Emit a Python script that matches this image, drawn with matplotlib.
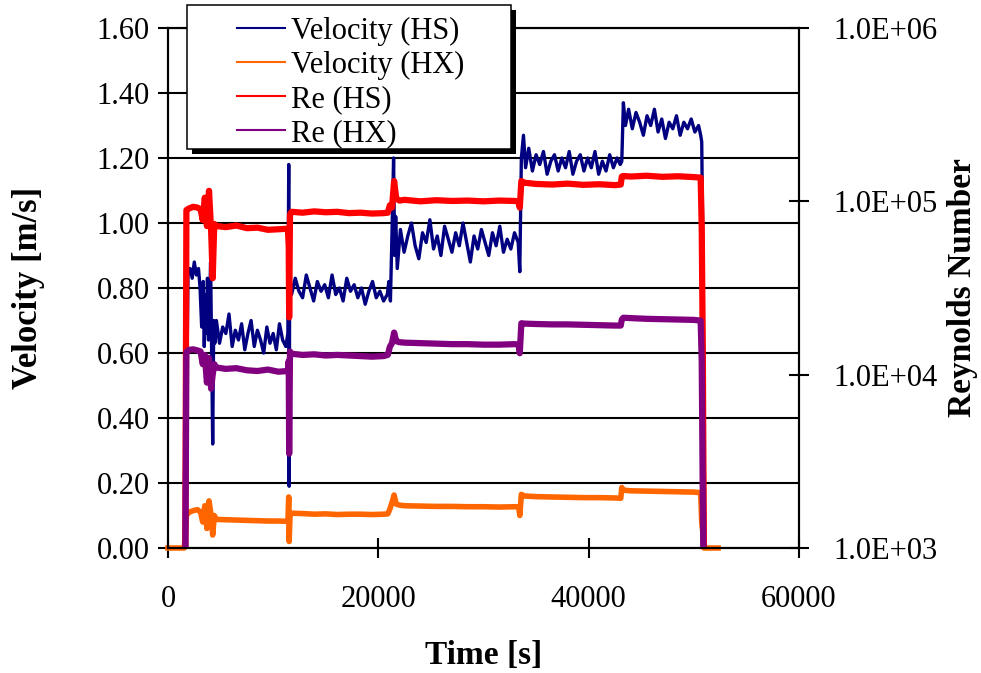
import numpy as np
import matplotlib
matplotlib.use("Agg")
import matplotlib.pyplot as plt
from matplotlib.lines import Line2D
from matplotlib.patches import Rectangle
from matplotlib.ticker import FixedLocator, FuncFormatter, NullLocator

plt.rcParams['font.family'] = ['Liberation Serif', 'DejaVu Serif']

nan = np.nan

time_hs = [
    0, 1550,
    1650, 1750, 1900, 2100, 2300, 2500, 2700, 2900, 3050, 3200, 3350,
    3450, 3550, 3650, 3750, 3850, 3950, 4050, 4150, 4250, 4350, 4450,
    4600, 4900, 5200, 5500, 5800, 6100, 6400, 6700, 7000, 7300, 7600, 7900,
    8200, 8500, 8800, 9100, 9400, 9700, 10000, 10300, 10600, 10900, 11200, 11400,
    11480, 11520, 11560, 11620,
    11750, 12100, 12450, 12800, 13150, 13500, 13850, 14200, 14550,
    14900, 15250, 15600, 15950, 16300, 16650, 17000, 17350, 17700,
    18050, 18400, 18750, 19100, 19450, 19800, 20150, 20500, 20850,
    21000, 21150, 21300, 21450, 21550, 21650, 21800,
    22100, 22450, 22800, 23150, 23500, 23850, 24200, 24550, 24900, 25250, 25600,
    25950, 26300, 26650, 27000, 27350, 27700, 28050, 28400, 28750, 29100, 29450,
    29800, 30150, 30500, 30850, 31200, 31550, 31900, 32250, 32600, 32950, 33300,
    33450, 33600, 33800, 34000,
    34300, 34650, 35000, 35350, 35700, 36050, 36400, 36750, 37100, 37450, 37800, 38150, 38500,
    38850, 39200, 39550, 39900, 40250, 40600, 40950, 41300, 41650, 42000, 42350, 42700, 43000,
    43150, 43300, 43500,
    43800, 44150, 44500, 44850, 45200, 45550, 45900, 46250, 46600, 46950, 47300,
    47650, 48000, 48350, 48700, 49050, 49400, 49750, 50100, 50450, 50650,
    50750, 50850, 50950, 51050,
    52300,
]
vel_hs = [
    0.0, 0.0,
    0.78, 0.38, 0.84, 0.86, 0.83, 0.88, 0.84, 0.86, 0.80, 0.68, 0.82,
    0.62, 0.78, 0.66, 0.83, 0.64, 0.74, 0.88, 0.60, 0.32, 0.70, 0.63,
    0.70, 0.63, 0.68, 0.66, 0.72, 0.62, 0.67, 0.64, 0.69, 0.61, 0.66, 0.70,
    0.62, 0.67, 0.64, 0.60, 0.68, 0.63, 0.66, 0.61, 0.69, 0.64, 0.62, 0.66,
    1.18, 0.19, 0.72, 0.82,
    0.78, 0.83, 0.79, 0.77, 0.84, 0.80, 0.76, 0.82, 0.79,
    0.81, 0.77, 0.84, 0.78, 0.80, 0.76, 0.83, 0.79, 0.81,
    0.77, 0.80, 0.75, 0.79, 0.82, 0.77, 0.79, 0.76, 0.78,
    0.82, 0.76, 0.97, 1.20, 0.90, 1.02, 0.86,
    0.98, 0.91, 0.96, 1.00, 0.93, 0.89, 0.97, 0.94, 1.01, 0.92, 0.96,
    0.90, 0.99, 0.95, 0.91, 0.97, 0.93, 1.00, 0.94, 0.88, 0.96, 0.92,
    0.98, 0.94, 0.90, 0.97, 0.93, 0.99, 0.91, 0.95, 0.92, 0.97, 0.94,
    0.85, 1.20, 1.27, 1.17,
    1.23, 1.16, 1.21, 1.18, 1.22, 1.15, 1.19, 1.21, 1.16, 1.20, 1.17, 1.22, 1.15,
    1.19, 1.21, 1.16, 1.20, 1.17, 1.22, 1.15, 1.19, 1.16, 1.21, 1.17, 1.20, 1.18,
    1.19, 1.37, 1.30,
    1.35, 1.29, 1.34, 1.31, 1.27, 1.33, 1.30, 1.35, 1.28, 1.32, 1.26,
    1.31, 1.29, 1.33, 1.27, 1.31, 1.29, 1.32, 1.28, 1.30, 1.27,
    1.25, 0.95, 0.45, 0.0,
    0.0,
]

# the other three channels
time_s = [
    0, 1550, 1650, 1750, 2000, 2400, 2800, 3100, 3300, 3500,
    3700, 3900, 4100, 4250, 4400, 4600, 5500, 6500, 7500, 8500,
    9500, 10500, 11400, 11480, 11520, 11600, 11750, 12800, 13900, 15000,
    16100, 17200, 18300, 19400, 20500, 20900, 21100, 21300, 21500, 21700,
    22000, 22500, 24000, 25500, 27000, 28500, 30000, 31500, 33000, 33350,
    33450, 33600, 33900, 35000, 36500, 38000, 39500, 41000, 42500, 43050,
    43150, 43300, 44000, 45500, 47000, 48500, 50000, 50650, 50750, 50850,
    50950, 51050, 52300,
]
vel_hx = [
    0.0, 0.0, 0.05, 0.10, 0.11, 0.115, 0.118, 0.11, 0.08, 0.13,
    0.06, 0.145, 0.10, 0.04, 0.10, 0.088, 0.087, 0.086, 0.085, 0.084,
    0.083, 0.083, 0.082, 0.157, 0.02, 0.10, 0.107, 0.106, 0.104, 0.105,
    0.103, 0.104, 0.104, 0.103, 0.104, 0.105, 0.12, 0.14, 0.163, 0.135,
    0.132, 0.130, 0.129, 0.128, 0.128, 0.127, 0.127, 0.126, 0.127, 0.126,
    0.10, 0.165, 0.160, 0.158, 0.157, 0.156, 0.155, 0.155, 0.154, 0.153,
    0.186, 0.178, 0.176, 0.175, 0.174, 0.173, 0.172, 0.170, 0.08, 0.05,
    0.0, 0.0, 0.0,
]
re_hs = [
    nan, nan, 1000, 89000, 91000, 93000, 92000, 90000, 78000, 105000,
    72000, 115000, 68000, 36000, 74000, 72000, 71000, 72500, 70000, 70500,
    68500, 69000, 69500, 55000, 21400, 84000, 87000, 86000, 87500, 86500,
    87000, 85500, 86000, 85000, 85500, 86000, 95000, 92000, 131000, 104000,
    101000, 102000, 100000, 101500, 100500, 101000, 100000, 101000, 100500, 99000,
    92000, 131000, 128000, 126000, 125000, 126500, 124500, 125500, 124000, 125000,
    139000, 140000, 139000, 140500, 138500, 139500, 138000, 137000, 70000, 14500,
    1000, nan, nan,
]
re_hx = [
    nan, nan, 800, 13500, 13900, 14000, 13800, 13600, 11500, 13000,
    9000, 12500, 8300, 10000, 11500, 11000, 10800, 10900, 10600, 10500,
    10700, 10400, 10500, 12000, 3500, 13600, 13200, 13000, 13100, 12900,
    13000, 12900, 12800, 12700, 12800, 13000, 14500, 15200, 17500, 15600,
    15400, 15300, 15200, 15100, 15000, 15000, 14900, 14900, 15000, 14900,
    13300, 19800, 19700, 19600, 19500, 19500, 19400, 19300, 19200, 19200,
    20800, 21300, 21200, 21000, 20900, 20800, 20700, 20500, 12000, 2000,
    500, nan, nan,
]

vel_ticks = [0.0, 0.2, 0.4, 0.6, 0.8, 1.0, 1.2, 1.4, 1.6]
re_ticks = [1e3, 1e4, 1e5, 1e6]
time_ticks = [0, 20000, 40000, 60000]

colors = {'Velocity (HS)': '#000080', 'Velocity (HX)': '#FF6600',
          'Re (HS)': '#FF0000', 'Re (HX)': '#800080'}

fig = plt.figure(figsize=(9.81, 6.73), dpi=100)
ax = fig.add_axes([168 / 981, 1 - 548 / 673, 631 / 981, 520 / 673])
ax2 = ax.twinx()

ax.plot(time_hs, vel_hs, color=colors['Velocity (HS)'], lw=2.4)
ax.plot(time_s, vel_hx, color=colors['Velocity (HX)'], lw=4, clip_on=False)
ax2.plot(time_s, re_hs, color=colors['Re (HS)'], lw=4.5)
ax2.plot(time_s, re_hx, color=colors['Re (HX)'], lw=4.5)

ax.set_xlim(0, 60000)
ax.set_ylim(0, 1.6)
ax.set_xticks(time_ticks)
ax.set_yticks(vel_ticks)
ax.yaxis.set_major_formatter(FuncFormatter(lambda v, p: f"{v:.2f}"))
ax.grid(axis='y', color='black', lw=1.5)
ax.set_axisbelow(True)

ax2.set_yscale('log')
ax2.set_ylim(1e3, 1e6)
ax2.yaxis.set_major_locator(FixedLocator(re_ticks))
ax2.yaxis.set_minor_locator(NullLocator())
ax2.yaxis.set_major_formatter(FuncFormatter(lambda v, p: f"{v:.1E}"))

for a in (ax, ax2):
    for s in a.spines.values():
        s.set_linewidth(1.5)
        s.set_color('black')

ax.tick_params(axis='y', direction='out', length=7, width=1.5, labelsize=22, pad=6)
ax.tick_params(axis='x', direction='inout', length=15, width=1.5, labelsize=22, pad=19)
ax2.tick_params(axis='y', direction='inout', length=15, width=1.5, labelsize=22, pad=17)

ax.set_xlabel('Time [s]', fontsize=24, fontweight='bold', va='center')
ax.xaxis.set_label_coords(0.5, (548 - 655) / 520)
ax.set_ylabel('Velocity [m/s]', fontsize=25, fontweight='bold', va='center')
ax.yaxis.set_label_coords((28 - 168) / 631, 0.5)
ax2.set_ylabel('Reynolds Number', fontsize=24, fontweight='bold', va='center')
ax2.yaxis.set_label_coords((963 - 168) / 631, 0.5)

# legend box with a solid shadow
bx0, bx1 = (187 - 168) / 631, (511 - 168) / 631
by0, by1 = (548 - 149) / 520, (548 - 5) / 520
ax2.add_patch(Rectangle((bx0 + 5 / 631, by0 - 5 / 520), bx1 - bx0, by1 - by0,
                        transform=ax2.transAxes, facecolor='black', edgecolor='none',
                        clip_on=False, zorder=5))
ax2.add_patch(Rectangle((bx0, by0), bx1 - bx0, by1 - by0,
                        transform=ax2.transAxes, facecolor='white', edgecolor='black',
                        lw=1.1, clip_on=False, zorder=5.5))

handles = [Line2D([], [], color=c, lw=1.5) for c in colors.values()]
leg = ax2.legend(handles, list(colors.keys()), loc='upper left',
                 bbox_to_anchor=((237 - 168) / 631, (548 - 17) / 520),
                 frameon=False, borderpad=0, borderaxespad=0, fontsize=22,
                 handlelength=1.57, handletextpad=0.2, labelspacing=0.16)
leg.set_zorder(6)

fig.savefig('out.png', dpi=100)
